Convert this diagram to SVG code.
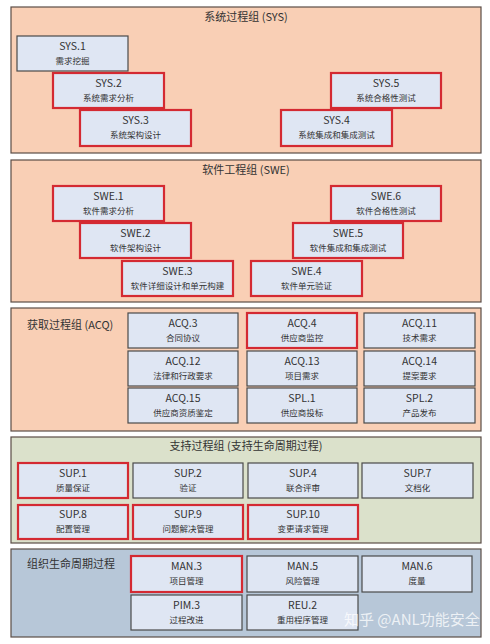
<svg xmlns="http://www.w3.org/2000/svg" width="490" height="644" viewBox="0 0 490 644">
<style>
.grp{stroke:#5b4d46;stroke-width:1.2}
.peach{fill:#f9cfb5}
.green{fill:#dbe1cb}
.blue{fill:#b7c7d8}
.box{fill:#dfe6f3;stroke:#4a4a4a;stroke-width:1.2}
.red{fill:#dfe6f3;stroke:#d42a32;stroke-width:2.2}
text{font-family:"Noto Sans CJK SC","Noto Sans",sans-serif;fill:#333;text-anchor:middle}
.code{font-size:10.5px}
.name{font-size:8.5px}
.title{font-size:11px}
.lt{text-anchor:start}
.wm{font-size:15px;fill:#ffffff;fill-opacity:0.75;text-anchor:start}
</style>
<rect width="490" height="644" fill="#ffffff"/>

<g id="grp-sys">
<rect class="grp peach" x="11" y="7" width="470" height="146"/>
<text class="title" x="246" y="21">系统过程组 (SYS)</text>
</g>
<g id="sys1"><rect class="box" x="17" y="36" width="111" height="35"/><text class="code" x="72.5" y="50">SYS.1</text><text class="name" x="72.5" y="64">需求挖掘</text></g>
<g id="sys2"><rect class="red" x="53" y="73" width="111" height="35"/><text class="code" x="108.5" y="87">SYS.2</text><text class="name" x="108.5" y="101">系统需求分析</text></g>
<g id="sys3"><rect class="red" x="80" y="110" width="111" height="36"/><text class="code" x="135.5" y="124">SYS.3</text><text class="name" x="135.5" y="138">系统架构设计</text></g>
<g id="sys5"><rect class="red" x="331" y="73" width="110" height="35"/><text class="code" x="386" y="87">SYS.5</text><text class="name" x="386" y="101">系统合格性测试</text></g>
<g id="sys4"><rect class="red" x="281" y="110" width="111" height="36"/><text class="code" x="336.5" y="124">SYS.4</text><text class="name" x="336.5" y="138">系统集成和集成测试</text></g>

<g id="grp-swe">
<rect class="grp peach" x="11" y="160" width="470" height="142"/>
<text class="title" x="246" y="174">软件工程组 (SWE)</text>
</g>
<g id="swe1"><rect class="red" x="53" y="186" width="111" height="35"/><text class="code" x="108.5" y="200">SWE.1</text><text class="name" x="108.5" y="214">软件需求分析</text></g>
<g id="swe2"><rect class="red" x="80" y="223" width="111" height="35"/><text class="code" x="135.5" y="237">SWE.2</text><text class="name" x="135.5" y="251">软件架构设计</text></g>
<g id="swe3"><rect class="red" x="122" y="261" width="111" height="35"/><text class="code" x="177.5" y="275">SWE.3</text><text class="name" x="177.5" y="289">软件详细设计和单元构建</text></g>
<g id="swe6"><rect class="red" x="331" y="186" width="110" height="35"/><text class="code" x="386" y="200">SWE.6</text><text class="name" x="386" y="214">软件合格性测试</text></g>
<g id="swe5"><rect class="red" x="293" y="223" width="110" height="35"/><text class="code" x="348" y="237">SWE.5</text><text class="name" x="348" y="251">软件集成和集成测试</text></g>
<g id="swe4"><rect class="red" x="251" y="261" width="111" height="35"/><text class="code" x="306.5" y="275">SWE.4</text><text class="name" x="306.5" y="289">软件单元验证</text></g>

<g id="grp-acq">
<rect class="grp peach" x="11" y="308" width="470" height="123"/>
<text class="title lt" x="27" y="329">获取过程组 (ACQ)</text>
</g>
<g id="acq3"><rect class="box" x="128" y="313" width="110" height="35"/><text class="code" x="183" y="327">ACQ.3</text><text class="name" x="183" y="341">合同协议</text></g>
<g id="acq12"><rect class="box" x="128" y="351" width="110" height="35"/><text class="code" x="183" y="365">ACQ.12</text><text class="name" x="183" y="379">法律和行政要求</text></g>
<g id="acq15"><rect class="box" x="128" y="388" width="110" height="35"/><text class="code" x="183" y="402">ACQ.15</text><text class="name" x="183" y="416">供应商资质鉴定</text></g>
<g id="acq4"><rect class="red" x="247" y="313" width="110" height="35"/><text class="code" x="302" y="327">ACQ.4</text><text class="name" x="302" y="341">供应商监控</text></g>
<g id="acq13"><rect class="box" x="247" y="351" width="110" height="35"/><text class="code" x="302" y="365">ACQ.13</text><text class="name" x="302" y="379">项目需求</text></g>
<g id="spl1"><rect class="box" x="247" y="388" width="110" height="35"/><text class="code" x="302" y="402">SPL.1</text><text class="name" x="302" y="416">供应商投标</text></g>
<g id="acq11"><rect class="box" x="364" y="313" width="111" height="35"/><text class="code" x="419.5" y="327">ACQ.11</text><text class="name" x="419.5" y="341">技术需求</text></g>
<g id="acq14"><rect class="box" x="364" y="351" width="111" height="35"/><text class="code" x="419.5" y="365">ACQ.14</text><text class="name" x="419.5" y="379">提案要求</text></g>
<g id="spl2"><rect class="box" x="364" y="388" width="111" height="35"/><text class="code" x="419.5" y="402">SPL.2</text><text class="name" x="419.5" y="416">产品发布</text></g>

<g id="grp-sup">
<rect class="grp green" x="11" y="437" width="470" height="106"/>
<text class="title" x="246" y="450">支持过程组 (支持生命周期过程)</text>
</g>
<g id="sup1"><rect class="red" x="18" y="463" width="110" height="35"/><text class="code" x="73" y="477">SUP.1</text><text class="name" x="73" y="491">质量保证</text></g>
<g id="sup2"><rect class="box" x="133" y="463" width="110" height="35"/><text class="code" x="188" y="477">SUP.2</text><text class="name" x="188" y="491">验证</text></g>
<g id="sup4"><rect class="box" x="248" y="463" width="110" height="35"/><text class="code" x="303" y="477">SUP.4</text><text class="name" x="303" y="491">联合评审</text></g>
<g id="sup7"><rect class="box" x="362" y="463" width="111" height="35"/><text class="code" x="417.5" y="477">SUP.7</text><text class="name" x="417.5" y="491">文档化</text></g>
<g id="sup8"><rect class="red" x="18" y="505" width="110" height="34"/><text class="code" x="73" y="518">SUP.8</text><text class="name" x="73" y="532">配置管理</text></g>
<g id="sup9"><rect class="red" x="133" y="505" width="110" height="34"/><text class="code" x="188" y="518">SUP.9</text><text class="name" x="188" y="532">问题解决管理</text></g>
<g id="sup10"><rect class="red" x="248" y="505" width="110" height="34"/><text class="code" x="303" y="518">SUP.10</text><text class="name" x="303" y="532">变更请求管理</text></g>

<g id="grp-org">
<rect class="grp blue" x="11" y="549" width="470" height="88"/>
<text class="title lt" x="27" y="568">组织生命周期过程</text>
</g>
<g id="man3"><rect class="red" x="131" y="556" width="111" height="36"/><text class="code" x="186.5" y="570">MAN.3</text><text class="name" x="186.5" y="584">项目管理</text></g>
<g id="pim3"><rect class="box" x="131" y="595" width="111" height="35"/><text class="code" x="186.5" y="609">PIM.3</text><text class="name" x="186.5" y="623">过程改进</text></g>
<g id="man5"><rect class="box" x="247" y="556" width="111" height="36"/><text class="code" x="302.5" y="570">MAN.5</text><text class="name" x="302.5" y="584">风险管理</text></g>
<g id="man6"><rect class="box" x="362" y="556" width="110" height="36"/><text class="code" x="417" y="570">MAN.6</text><text class="name" x="417" y="584">度量</text></g>
<g id="reu2"><rect class="box" x="247" y="595" width="111" height="35"/><text class="code" x="302.5" y="609">REU.2</text><text class="name" x="302.5" y="623">重用程序管理</text></g>

<g id="connectors"></g>

<text class="wm" x="344" y="625">知乎 @ANL功能安全</text>
</svg>
